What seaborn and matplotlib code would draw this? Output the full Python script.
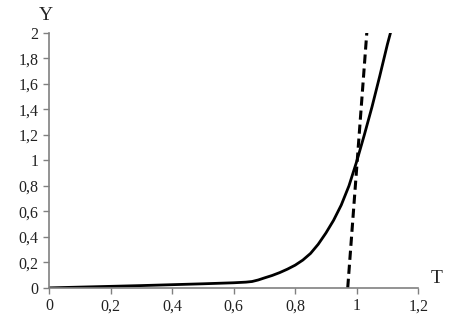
import pandas as pd
import numpy as np
import seaborn as sns
import matplotlib.pyplot as plt

# solid curve Y(T)
t_curve = [0.0, 0.1, 0.2, 0.3, 0.4, 0.5, 0.6, 0.64, 0.66, 0.68, 0.7, 0.725,
           0.75, 0.775, 0.8, 0.825, 0.85, 0.875, 0.9, 0.925, 0.95, 0.975,
           1.0, 1.025, 1.05, 1.075, 1.1, 1.11]
y_curve = [0.0, 0.006, 0.012, 0.018, 0.025, 0.032, 0.04, 0.045, 0.05, 0.062,
           0.078, 0.097, 0.12, 0.147, 0.178, 0.218, 0.27, 0.342, 0.43, 0.53,
           0.65, 0.8, 0.99, 1.2, 1.42, 1.66, 1.91, 2.0]

# dashed line
t_dash = [0.971, 1.033]
y_dash = [0.0, 2.0]

x_ticks = [0, 0.2, 0.4, 0.6, 0.8, 1.0, 1.2]
x_labels = ["0", "0,2", "0,4", "0,6", "0,8", "1", "1,2"]
y_ticks = [0, 0.2, 0.4, 0.6, 0.8, 1.0, 1.2, 1.4, 1.6, 1.8, 2.0]
y_labels = ["0", "0,2", "0,4", "0,6", "0,8", "1", "1,2", "1,4", "1,6", "1,8", "2"]

sns.set_style("ticks")
plt.rcParams['font.family'] = ['Liberation Serif', 'DejaVu Serif']

fig = plt.figure(figsize=(4.59, 3.16), dpi=100)
ax = fig.add_axes([0.107, 0.089, 0.804, 0.807])

sns.lineplot(x=t_curve, y=y_curve, ax=ax, color='black', linewidth=2, sort=False)
sns.lineplot(x=t_dash, y=y_dash, ax=ax, color='black', linewidth=2.2,
             linestyle=(0, (3, 1.6)), sort=False)

ax.set_xlim(0, 1.2)
ax.set_ylim(0, 2)
ax.set_xticks(x_ticks)
ax.set_xticklabels(x_labels)
ax.set_yticks(y_ticks)
ax.set_yticklabels(y_labels)
ax.tick_params(labelsize=11.5, colors='#222222', length=4, width=1)
ax.tick_params(axis='both', color='#808080')
for s in ['top', 'right']:
    ax.spines[s].set_visible(False)
for s in ['left', 'bottom']:
    ax.spines[s].set_color('#808080')
    ax.spines[s].set_linewidth(1.2)

ax.text(-0.01, 1.07, "Y", transform=ax.transAxes, fontsize=14, ha='center', va='center')
ax.text(1.05, 0.035, "T", transform=ax.transAxes, fontsize=14, ha='center', va='center')

fig.savefig('out.png', dpi=100)
